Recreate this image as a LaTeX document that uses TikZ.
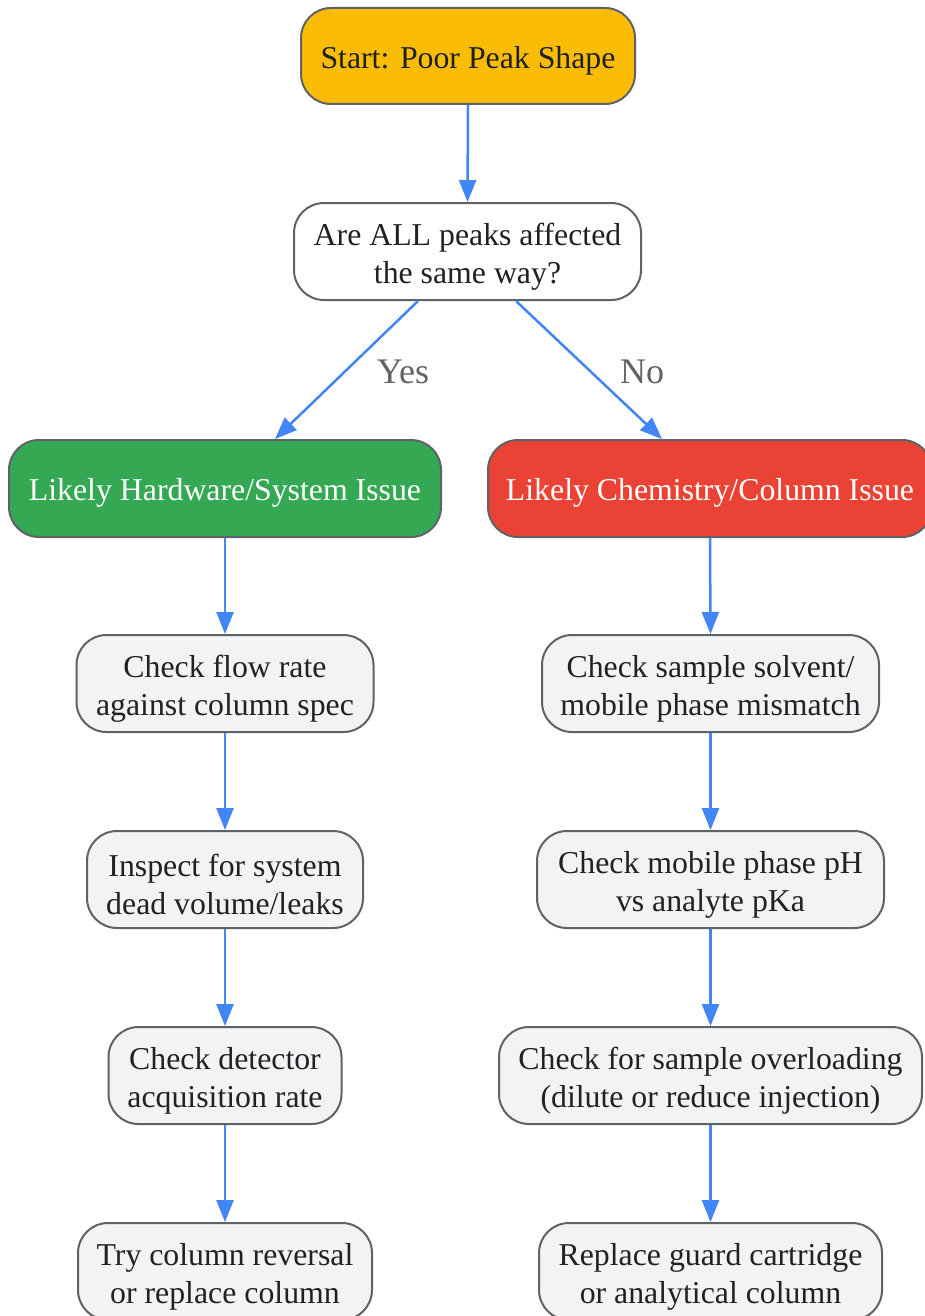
\documentclass[tikz,border=0pt]{standalone}
\usepackage{fontspec}
\setmainfont{Liberation Serif}
\usetikzlibrary{arrows.meta,calc}
\definecolor{cstart}{HTML}{FBBC05}
\definecolor{cgreen}{HTML}{34A853}
\definecolor{cred}{HTML}{EA4335}
\definecolor{cgray}{HTML}{F1F3F4}
\definecolor{cborder}{HTML}{5F6368}
\definecolor{ctext}{HTML}{202124}
\definecolor{carrow}{HTML}{4285F4}
\definecolor{clabel}{HTML}{5F6368}
\tikzset{
  box/.style={draw=cborder, line width=2pt, rounded corners=30pt, align=center,
    inner sep=0pt, text=ctext, text height=31pt, font=\fontsize{31.8}{38}\selectfont},
  twoline/.style={text height=70pt},
  conn/.style={draw=carrow, line width=2.5pt, -{Triangle[length=22pt,width=17pt]}},
  lbl/.style={text=clabel, font=\fontsize{36}{40}\selectfont},
}
\begin{document}
\begin{tikzpicture}[x=1pt,y=-1pt]
\useasboundingbox[fill=white] (0,0) rectangle (924,1316);
\node[box, fill=cstart, minimum width=334pt, minimum height=96pt] (start) at (468,56) {Start: Poor Peak Shape};
\node[box, twoline, fill=white, minimum width=347pt, minimum height=97pt] (q) at (467.5,251.5) {Are ALL peaks affected\\the same way?};
\node[box, fill=cgreen, text=white, minimum width=432pt, minimum height=97pt] (hw) at (225,488.5) {Likely Hardware/System Issue};
\node[box, fill=cred, text=white, minimum width=444pt, minimum height=97pt] (ch) at (710,488.5) {Likely Chemistry/Column Issue};
\node[box, twoline, fill=cgray, minimum width=297pt, minimum height=97pt] (l1) at (225,683.5) {Check flow rate\\against column spec};
\node[box, twoline, fill=cgray, minimum width=276pt, minimum height=97pt] (l2) at (225,879.5) {Inspect for system\\dead volume/leaks};
\node[box, twoline, fill=cgray, minimum width=233pt, minimum height=97pt] (l3) at (225,1075.5) {Check detector\\acquisition rate};
\node[box, twoline, fill=cgray, minimum width=294pt, minimum height=97pt] (l4) at (225,1271.5) {Try column reversal\\or replace column};
\node[box, twoline, fill=cgray, minimum width=337pt, minimum height=97pt] (r1) at (710.5,683.5) {Check sample solvent/\\mobile phase mismatch};
\node[box, twoline, fill=cgray, minimum width=347pt, minimum height=97pt] (r2) at (710.5,879.5) {Check mobile phase pH\\vs analyte pKa};
\node[box, twoline, fill=cgray, minimum width=423pt, minimum height=97pt] (r3) at (710.5,1075.5) {Check for sample overloading\\(dilute or reduce injection)};
\node[box, twoline, fill=cgray, minimum width=343pt, minimum height=97pt] (r4) at (710.5,1271.5) {Replace guard cartridge\\or analytical column};
\draw[conn] (start.south) -- (q.north);
\draw[conn] ($(q.south)+(-49.5,0)$) -- ($(hw.north)+(50,0)$);
\draw[conn] ($(q.south)+(48.5,0)$) -- ($(ch.north)+(-48,0)$);
\node[lbl] (yes) at (403,372) {Yes};
\node[lbl] (no) at (642,372) {No};
\draw[conn] (hw.south) -- (l1.north);
\draw[conn] (l1.south) -- (l2.north);
\draw[conn] (l2.south) -- (l3.north);
\draw[conn] (l3.south) -- (l4.north);
\draw[conn] (ch.south) -- (r1.north);
\draw[conn] (r1.south) -- (r2.north);
\draw[conn] (r2.south) -- (r3.north);
\draw[conn] (r3.south) -- (r4.north);
\end{tikzpicture}
\end{document}
